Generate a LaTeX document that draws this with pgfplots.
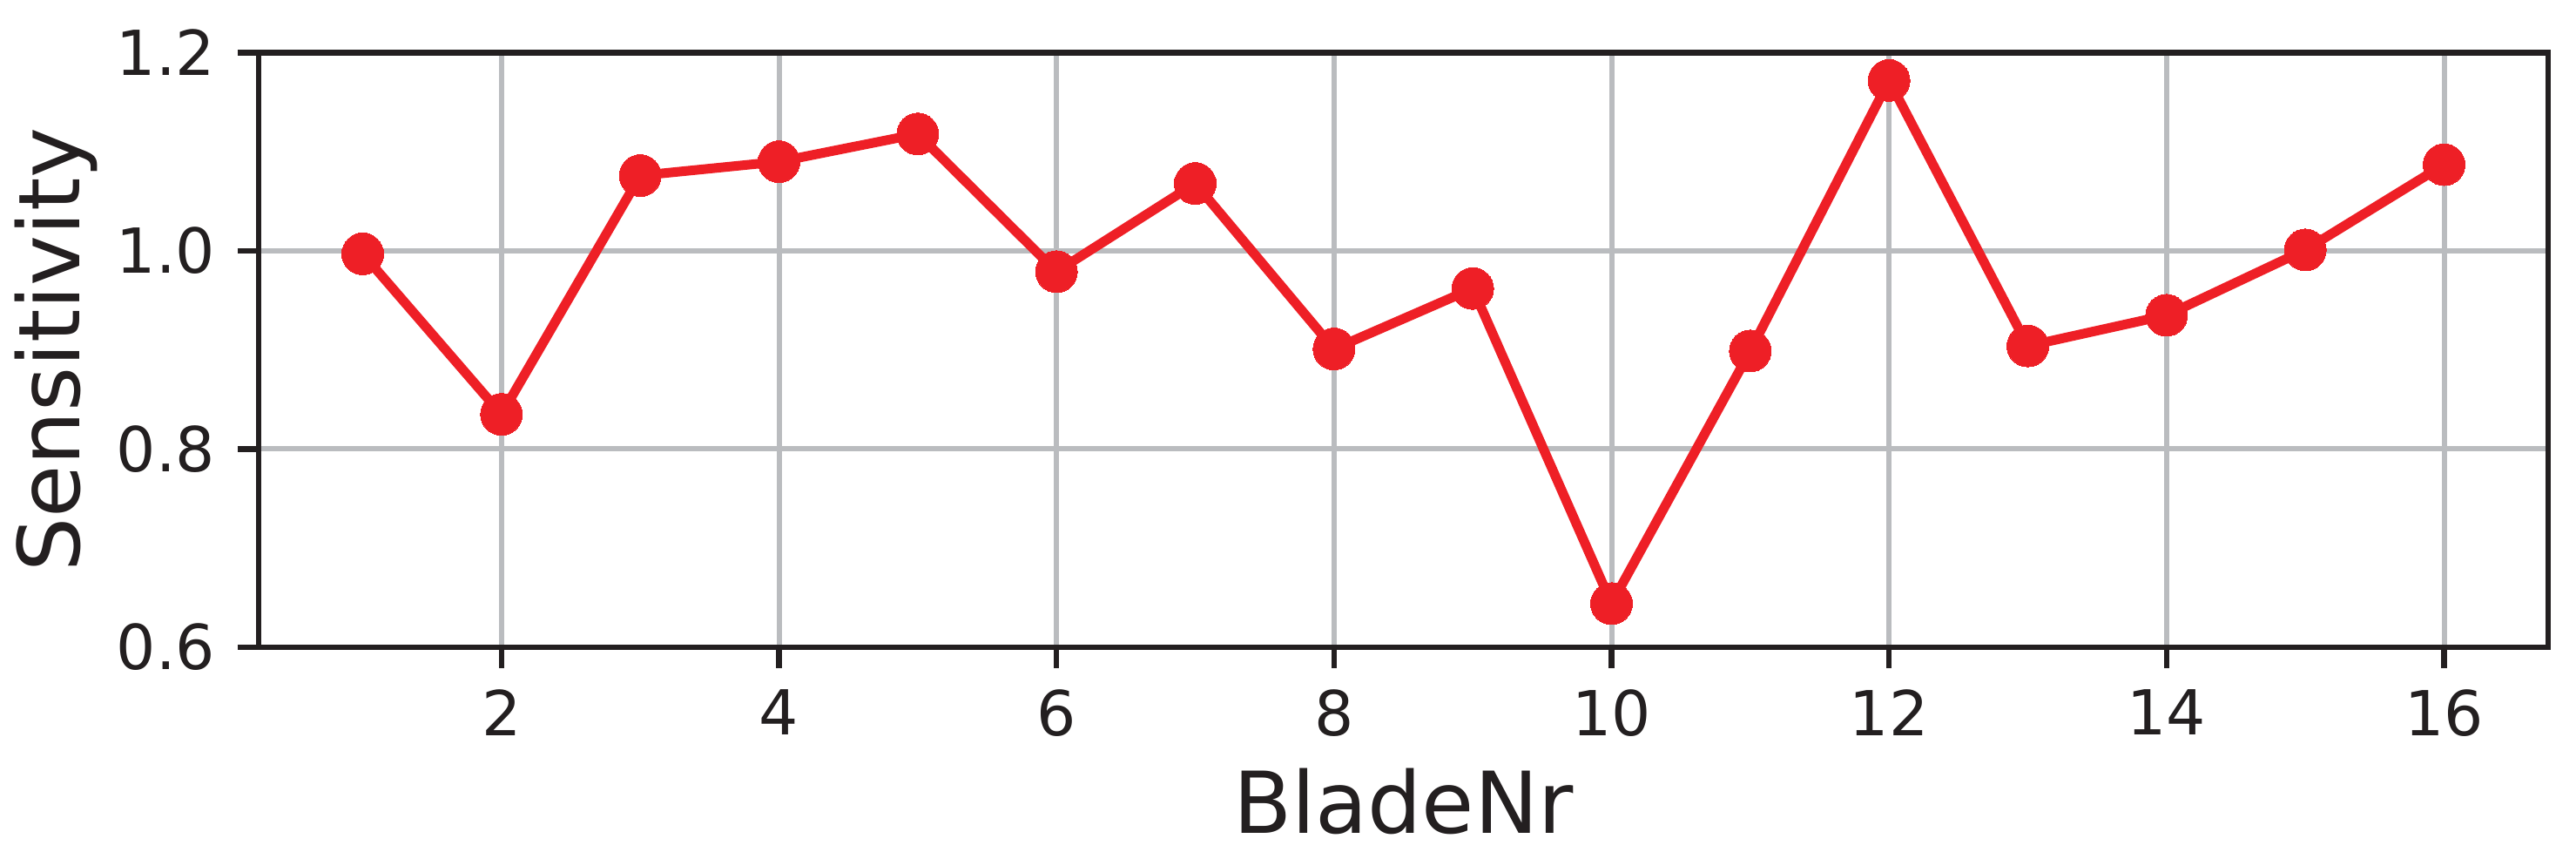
\documentclass[border=0pt]{standalone}
\usepackage{pgfplots}
\pgfplotsset{compat=1.18}
\usepackage{fontspec}
\setmainfont{DejaVu Sans}
\definecolor{linered}{RGB}{238,31,38}
\definecolor{gridgray}{RGB}{186,188,191}
\definecolor{spine}{RGB}{35,31,32}
\begin{document}
\begin{tikzpicture}
\begin{axis}[
  name=ax,
  scale only axis,
  width=657.25pt, height=170.6pt,
  xmin=0.25, xmax=16.75,
  ymin=0.6, ymax=1.2,
  xtick={2,4,6,8,10,12,14,16},
  ytick={0.6,0.8,1.0,1.2},
  yticklabels={0.6,0.8,1.0,1.2},
  /pgf/number format/assume math mode=true,
  tick align=outside,
  tick pos=left,
  major tick length=6pt,
  every tick/.style={spine, line width=1.6pt},
  axis line style={spine, line width=1.6pt},
  grid=major,
  major grid style={gridgray, line width=1.5pt},
  ticklabel style={font=\fontsize{17.8}{20}\selectfont, text=spine},
  xticklabel style={anchor=north, inner sep=0pt, yshift=-6pt},
  yticklabel style={anchor=east, inner sep=0pt, xshift=-6.25pt},
  xlabel={BladeNr},
  ylabel={Sensitivity},
  label style={font=\fontsize{24.5}{28}\selectfont, text=spine},
  xlabel style={at={(axis description cs:0.5,0)}, anchor=base, yshift=-53.5pt, inner sep=0pt},
  ylabel style={at={([xshift=-51.25pt]axis description cs:0,0.5)}, anchor=base, inner sep=0pt},
  clip=false,
]
\addplot[linered, line width=2.75pt, mark=*, mark size=6pt, mark options={fill=linered, draw=linered, line width=0pt}] coordinates {
(1,0.997) (2,0.835) (3,1.076) (4,1.090) (5,1.118) (6,0.979) (7,1.068) (8,0.901)
(9,0.962) (10,0.644) (11,0.899) (12,1.172) (13,0.904) (14,0.935) (15,1.001) (16,1.087)
};
\end{axis}
\pgfresetboundingbox
\path[use as bounding box] ([xshift=-74.25pt,yshift=-58.75pt]ax.south west) rectangle ([xshift=8pt,yshift=15.125pt]ax.north east);
\end{tikzpicture}
\end{document}
